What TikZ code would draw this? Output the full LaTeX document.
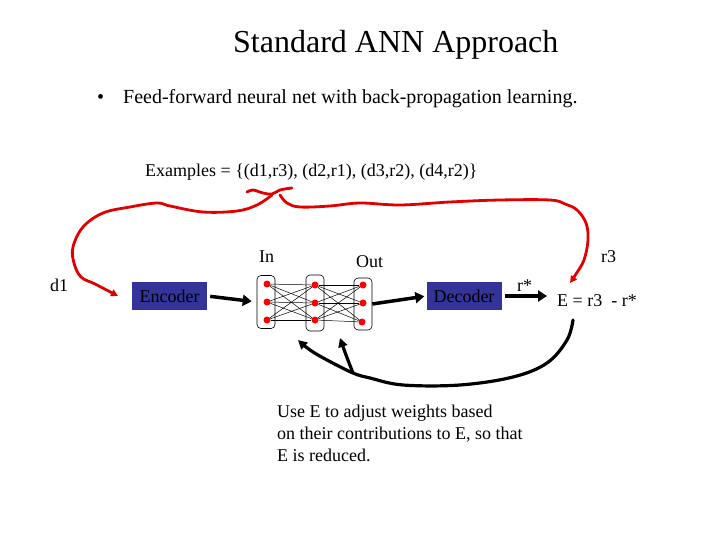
\documentclass[tikz,border=0pt]{standalone}
\usepackage{fontspec}
\setmainfont{Liberation Serif}
\usetikzlibrary{arrows.meta}
\definecolor{encblue}{RGB}{51,51,153}
\definecolor{penred}{RGB}{224,0,0}
\begin{document}
\begin{tikzpicture}[x=1pt,y=-1pt,
  txt/.style={inner sep=0pt, anchor=base west, font=\fontsize{18}{22}\selectfont},
  block/.style={fill=encblue, minimum width=75pt, minimum height=28pt, inner sep=0pt, font=\fontsize{18}{22}\selectfont},
  col/.style={draw, rounded corners=4pt, minimum width=18pt, minimum height=53pt, inner sep=0pt, line width=0.6pt},
  neuron/.style={circle, fill=red, minimum size=7pt, inner sep=0pt},
  wire/.style={line width=0.5pt},
  fat/.style={line width=3.5pt, -{Triangle[length=9pt,width=11pt]}},
  pen/.style={penred, line width=2.8pt, line cap=round, line join=round},
  penarrow/.style={-{Triangle[length=7pt,width=7pt]}},
  ink/.style={black, line width=3.2pt, line cap=round, line join=round, -{Triangle[length=9pt,width=9pt]}},
]
\useasboundingbox (0,0) rectangle (720,540);

% texts
\node[txt, font=\fontsize{32}{36}\selectfont] (title) at (233,53) {Standard ANN Approach};
\node[txt, font=\fontsize{20}{24}\selectfont] (bullet) at (97,104) {\textbullet};
\node[txt, font=\fontsize{20}{24}\selectfont] (feed) at (123,104) {Feed-forward neural net with back-propagation learning.};
\node[txt] (examples) at (145,177) {Examples = \{(d1,r3), (d2,r1), (d3,r2), (d4,r2)\}};
\node[txt] (inlbl) at (259,262) {In};
\node[txt] (outlbl) at (356,267) {Out};
\node[txt] (d1) at (50,291) {d1};
\node[txt] (r3) at (601,262) {r3};
\node[txt] (rstar) at (517,291) {r*};
\node[txt] (err) at (557,306) {E = r3~ - r*};
\node[txt] (use1) at (277,417) {Use E to adjust weights based};
\node[txt] (use2) at (277,439) {on their contributions to E, so that};
\node[txt] (use3) at (277,461) {E is reduced.};

% blocks
\node[block] (enc) at (169.5,296) {Encoder};
\node[block] (dec) at (464,296) {Decoder};

% network columns
\node[col] (c1) at (266,302) {};
\node[col, minimum height=56pt] (c2) at (315,303) {};
\node[col, minimum height=52pt] (c3) at (363,304) {};

\node[neuron] (n11) at (267,284) {};
\node[neuron] (n12) at (267,302) {};
\node[neuron] (n13) at (267,320) {};
\node[neuron] (n21) at (315,285) {};
\node[neuron] (n22) at (315,303) {};
\node[neuron] (n23) at (315,320) {};
\node[neuron] (n31) at (363,285) {};
\node[neuron] (n32) at (363,303) {};
\node[neuron] (n33) at (362,322) {};

\foreach \a in {1,2,3}{
  \foreach \b in {1,2,3}{
    \draw[wire] (n1\a) -- (n2\b);
    \draw[wire] (n2\a) -- (n3\b);
  }
}

% thick arrows
\draw[fat, shorten <=3pt, shorten >=5pt] (enc.east) -- (c1.west);
\draw[fat, shorten >=2pt] (c3.east) -- (dec.west);
\draw[fat, shorten <=3pt, shorten >=10pt] (dec.east) -- (err.west |- dec.east);

% red hand-drawn brace and connectors
\draw[pen] plot[smooth, tension=0.6] coordinates {(247,192) (253,190) (263,193) (272,194) (280,190) (292,188)};
\draw[pen, penarrow] plot[smooth, tension=0.6] coordinates {(272,195) (257,205) (237,211) (203,212) (170,206) (157,203) (130,207) (103,213) (83,227) (73,247) (74,263) (81,277) (95,284) (118,296)};
\draw[pen, penarrow] plot[smooth, tension=0.6] coordinates {(280,195) (287,203) (300,207) (330,206) (360,203) (400,205) (450,202) (500,200) (550,200) (565,204) (577,210) (586,223) (588,240) (584,260) (576,274) (570,283)};

% black feedback curve
\draw[ink] plot[smooth, tension=0.6] coordinates {(573,320) (567,340) (547,363) (513,377) (460,385) (403,385) (370,378) (353,373) (327,360) (310,350) (298,340)};
\draw[ink] plot[smooth, tension=0.6] coordinates {(353,373) (346,355) (340,338)};
\end{tikzpicture}
\end{document}
